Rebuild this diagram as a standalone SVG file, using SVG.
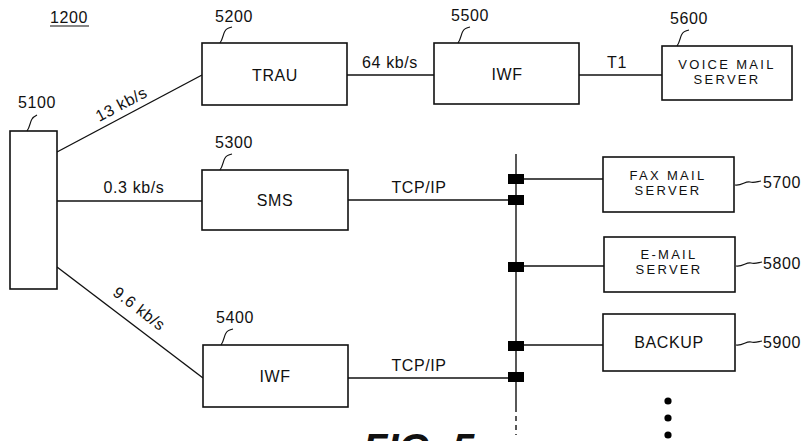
<svg xmlns="http://www.w3.org/2000/svg" width="801" height="441" viewBox="0 0 801 441">
<style>
.box{fill:#fff;stroke:#111;stroke-width:1.6}
.ln{fill:none;stroke:#111;stroke-width:1.4}
.ld{fill:none;stroke:#111;stroke-width:1.2}
.t{font-family:"Liberation Sans",Arial,sans-serif;font-size:16px;fill:#111;letter-spacing:0.6px}
.s{font-size:13px;letter-spacing:2.3px}
.c{text-anchor:middle}
.j{fill:#000}
</style>
<rect width="801" height="441" fill="#fff"/>
<text class="t" x="50" y="23">1200</text>
<line x1="50" y1="26" x2="89" y2="26" class="ld"/>

<g id="connectors">
<line class="ln" x1="57" y1="152" x2="202" y2="75"/>
<line class="ln" x1="57" y1="201" x2="202" y2="201"/>
<line class="ln" x1="57" y1="267" x2="203" y2="378"/>
<line class="ln" x1="347" y1="75" x2="434" y2="75"/>
<line class="ln" x1="579" y1="75" x2="662" y2="75"/>
<line class="ln" x1="348" y1="200" x2="516" y2="200"/>
<line class="ln" x1="348" y1="378" x2="516" y2="378"/>
<line class="ln" x1="516" y1="154" x2="516" y2="407"/>
<line class="ln" x1="516" y1="407" x2="516" y2="435" stroke-dasharray="5,4"/>
<line class="ln" x1="516" y1="179" x2="603" y2="179"/>
<line class="ln" x1="516" y1="266" x2="604" y2="266"/>
<line class="ln" x1="516" y1="345" x2="603" y2="345"/>
<rect class="j" x="508" y="174" width="16" height="10"/>
<rect class="j" x="508" y="195" width="16" height="10"/>
<rect class="j" x="508" y="262" width="16" height="10"/>
<rect class="j" x="508" y="341" width="16" height="10"/>
<rect class="j" x="508" y="372" width="16" height="10"/>
<text class="t" transform="translate(124,109) rotate(-28)" text-anchor="middle">13 kb/s</text>
<text class="t c" x="134" y="193">0.3 kb/s</text>
<text class="t" transform="translate(136,313) rotate(37.4)" text-anchor="middle">9.6 kb/s</text>
<text class="t c" x="390" y="68">64 kb/s</text>
<text class="t c" x="617" y="68">T1</text>
<text class="t c" x="419" y="193">TCP/IP</text>
<text class="t c" x="419" y="371">TCP/IP</text>
</g>

<g id="n5100">
<rect class="box" x="10" y="131" width="47" height="158"/>
<path class="ld" d="M27,131 C30,127 30,122 32,119 C33,117 35,116 37,115"/>
<text class="t" x="18" y="108">5100</text>
</g>

<g id="n5200">
<rect class="box" x="202" y="43" width="145" height="62"/>
<text class="t c" x="275" y="81">TRAU</text>
<path class="ld" d="M220,43 C223,39 223,34 225,31 C226,29 228,28 232,27"/>
<text class="t" x="215" y="22">5200</text>
</g>

<g id="n5500">
<rect class="box" x="434" y="43" width="145" height="61"/>
<text class="t c" x="507" y="80">IWF</text>
<path class="ld" d="M458,43 C461,39 461,34 463,31 C464,29 466,28 470,27"/>
<text class="t" x="451" y="21">5500</text>
</g>

<g id="n5600">
<rect class="box" x="662" y="46" width="130" height="54"/>
<text class="t s c" x="727" y="69">VOICE MAIL<tspan x="727" dy="15">SERVER</tspan></text>
<path class="ld" d="M677,46 C680,42 680,37 682,34 C683,32 685,31 689,30"/>
<text class="t" x="670" y="24">5600</text>
</g>

<g id="n5300">
<rect class="box" x="202" y="170" width="146" height="60"/>
<text class="t c" x="275" y="206">SMS</text>
<path class="ld" d="M220,170 C223,166 223,161 225,158 C226,156 228,155 232,154"/>
<text class="t" x="215" y="148">5300</text>
</g>

<g id="n5400">
<rect class="box" x="203" y="345" width="145" height="62"/>
<text class="t c" x="275" y="382">IWF</text>
<path class="ld" d="M221,345 C224,341 224,336 226,333 C227,331 229,330 233,329"/>
<text class="t" x="216" y="323">5400</text>
</g>

<g id="n5700">
<rect class="box" x="603" y="157" width="131" height="55"/>
<text class="t s c" x="668" y="180">FAX MAIL<tspan x="668" dy="15">SERVER</tspan></text>
<path class="ld" d="M735,185 C742,186 745,181 750,182 C754,183 756,182 761,181"/>
<text class="t" x="763" y="188">5700</text>
</g>

<g id="n5800">
<rect class="box" x="604" y="237" width="131" height="55"/>
<text class="t s c" x="669" y="259">E-MAIL<tspan x="669" dy="15">SERVER</tspan></text>
<path class="ld" d="M736,266 C743,267 746,262 751,263 C755,264 757,263 762,262"/>
<text class="t" x="763" y="269">5800</text>
</g>

<g id="n5900">
<rect class="box" x="603" y="314" width="132" height="57"/>
<text class="t c" x="669" y="348">BACKUP</text>
<path class="ld" d="M736,345 C743,346 746,341 751,342 C755,343 757,342 762,341"/>
<text class="t" x="763" y="348">5900</text>
</g>

<circle class="j" cx="668" cy="401" r="3.6"/>
<circle class="j" cx="668" cy="418" r="3.6"/>
<circle class="j" cx="668" cy="435" r="3.6"/>

<text x="363" y="462" font-family="Liberation Sans,Arial,sans-serif" font-size="40" font-weight="bold" font-style="italic" fill="#111">FIG. 5</text>
</svg>
